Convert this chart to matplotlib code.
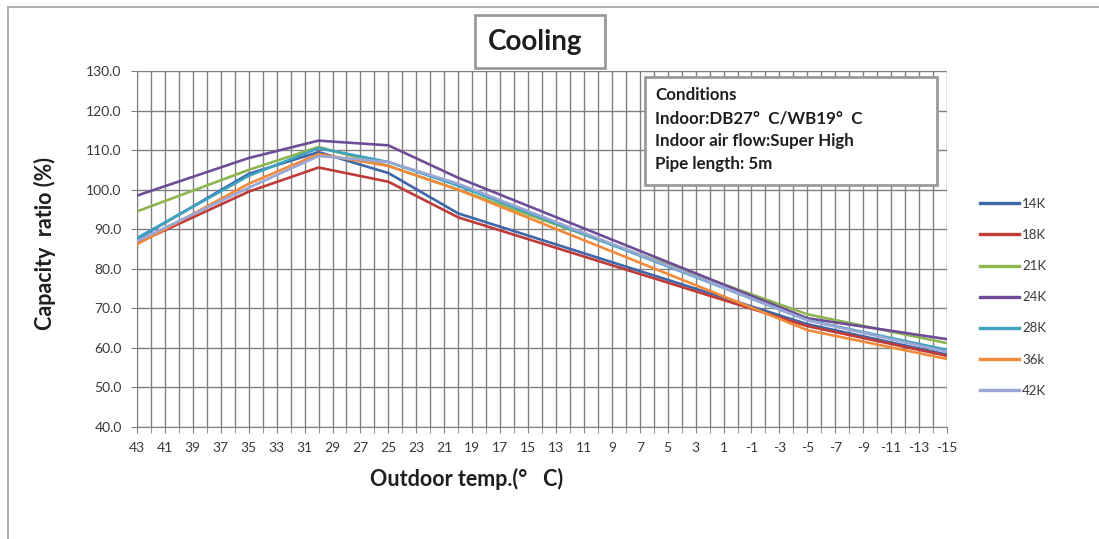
import matplotlib.pyplot as plt
import numpy as np
from matplotlib.lines import Line2D
from matplotlib.patches import Rectangle

plt.rcParams['font.family'] = ['Lato', 'DejaVu Sans']
plt.rcParams['axes.unicode_minus'] = False

### Data
# outdoor temperatures where the curves bend
temps = [43, 35, 30, 25, 20, -5, -15]
series_names = ["14K", "18K", "21K", "24K", "28K", "36k", "42K"]
cap_14k = [87.5, 104.0, 109.5, 104.2, 94.0, 66.0, 58.3]
cap_18k = [86.5, 99.5, 105.6, 102.0, 93.0, 65.5, 58.0]
cap_21k = [94.5, 105.0, 110.8, 106.0, 100.0, 68.5, 61.2]
cap_24k = [98.5, 108.0, 112.4, 111.2, 103.0, 67.5, 62.2]
cap_28k = [87.8, 103.5, 110.5, 107.0, 101.0, 67.0, 59.5]
cap_36k = [86.2, 101.5, 109.0, 106.0, 100.0, 64.5, 57.2]
cap_42k = [87.0, 100.5, 108.5, 107.0, 101.5, 67.0, 59.0]
colors = ["#3F66A8", "#BE3B37", "#8DB551", "#6F4D96", "#3EA3BF", "#F28A3A", "#9AA7D6"]

all_caps = [cap_14k, cap_18k, cap_21k, cap_24k, cap_28k, cap_36k, cap_42k]

### Figure
fig = plt.figure(figsize=(10.99, 5.39), dpi=100)
ax = fig.add_axes([137 / 1099, 1 - 427 / 539, 810 / 1099, 356 / 539])

for name, vals, col in zip(series_names, all_caps, colors):
    ax.plot(temps, vals, color=col, linewidth=1.9, label=name, zorder=3)

# axes
ax.set_xlim(43, -15)
ax.set_ylim(40, 130)
ax.set_xticks(np.arange(43, -16, -2))
ax.set_xticks(np.arange(43, -16, -1), minor=True)
ax.set_yticks(np.arange(40, 131, 10))
ax.set_yticklabels(["%.1f" % v for v in np.arange(40, 131, 10)])
ax.grid(True, which="both", axis="x", color="#808080", linewidth=1.0)
ax.grid(True, which="major", axis="y", color="#808080", linewidth=1.0)
ax.tick_params(axis="both", which="both", direction="out", color="#808080",
               labelsize=10, labelcolor="#3a3a3a")
ax.tick_params(axis="x", which="both", length=4, pad=7)
ax.tick_params(axis="y", length=4, pad=7)
for s in ["top", "right"]:
    ax.spines[s].set_visible(False)
for s in ["left", "bottom"]:
    ax.spines[s].set_color("#808080")

# axis titles
fig.text(467 / 1099, 1 - 479 / 539, "Outdoor temp.(°   C)", ha="center", va="center",
         fontsize=15.5, fontweight="bold", color="#1e1e1e")
fig.text(45 / 1099, 1 - 243 / 539, "Capacity  ratio (%)", ha="center", va="center",
         rotation=90, fontsize=15.5, fontweight="bold", color="#1e1e1e")

# title box
fig.patches.append(Rectangle((475 / 1099, 1 - 68 / 539), 130 / 1099, 53 / 539,
                             transform=fig.transFigure, fill=True, facecolor="white",
                             edgecolor="#9a9a9a", linewidth=2))
fig.text(535 / 1099, 1 - 42 / 539, "Cooling", ha="center", va="center",
         fontsize=20, fontweight="bold", color="#1e1e1e")

# conditions box
ax.add_patch(Rectangle((645 / 1099, 1 - 185 / 539), 292 / 1099, 108 / 539,
                       transform=fig.transFigure, facecolor="white",
                       edgecolor="#9a9a9a", linewidth=2, zorder=5))
cond_lines = ["Conditions", "Indoor:DB27°  C/WB19°  C",
              "Indoor air flow:Super High", "Pipe length: 5m"]
for i, t in enumerate(cond_lines):
    fig.text(655 / 1099, 1 - (95 + 23 * i) / 539, t, ha="left", va="center",
             fontsize=12.2, fontweight="bold", color="#1e1e1e", zorder=6)

# legend
handles = [Line2D([0], [0], color=c, linewidth=2.4) for c in colors]
leg = fig.legend(handles, series_names, loc="upper left",
                 bbox_to_anchor=(968 / 1099, 1 - 186 / 539), frameon=False,
                 fontsize=9.5, labelspacing=1.45, handlelength=3.0, handletextpad=0.2)
for t in leg.get_texts():
    t.set_color("#3a3a3a")

# outer frame lines
fig.add_artist(Line2D([8 / 1099, 1], [1 - 7 / 539, 1 - 7 / 539], color="#b0b0b0",
                      linewidth=1.5, transform=fig.transFigure))
fig.add_artist(Line2D([8 / 1099, 8 / 1099], [1 - 7 / 539, 0], color="#b0b0b0",
                      linewidth=1.5, transform=fig.transFigure))

fig.savefig("out.png", dpi=100)
